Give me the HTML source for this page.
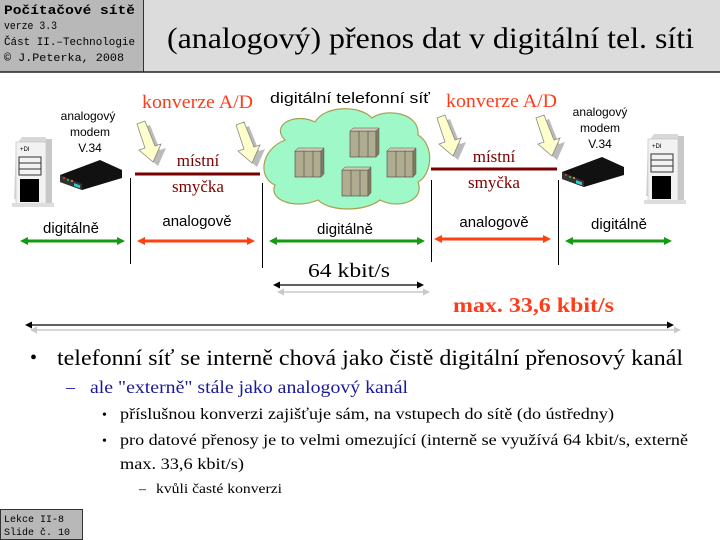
<!DOCTYPE html>
<html><head><meta charset="utf-8"><style>
html,body{margin:0;padding:0;background:#fff;}
svg{display:block;}
.s{font-family:"Liberation Sans",sans-serif;}
.r{font-family:"Liberation Serif",serif;}
.m{font-family:"Liberation Mono",monospace;}
</style></head><body>
<svg width="720" height="540" viewBox="0 0 720 540" xmlns="http://www.w3.org/2000/svg">
<defs>
<marker id="ag" markerWidth="8" markerHeight="8" refX="4" refY="4" orient="auto-start-reverse" markerUnits="userSpaceOnUse"><path d="M0,0 L8,4 L0,8 z" fill="#129a12"/></marker>
<marker id="ar" markerWidth="8" markerHeight="8" refX="4" refY="4" orient="auto-start-reverse" markerUnits="userSpaceOnUse"><path d="M0,0 L8,4 L0,8 z" fill="#ff4010"/></marker>
<marker id="ak" markerWidth="7" markerHeight="7" refX="4" refY="3.5" orient="auto-start-reverse" markerUnits="userSpaceOnUse"><path d="M0,0 L7,3.5 L0,7 z" fill="#000"/></marker>
<marker id="ay" markerWidth="7" markerHeight="7" refX="4" refY="3.5" orient="auto-start-reverse" markerUnits="userSpaceOnUse"><path d="M0,0 L7,3.5 L0,7 z" fill="#c8c8c8"/></marker>
<g id="comp">
<path d="M0,8 L6,0 L30,0 L30,62 L-2,62 z" fill="#d8d8d8"/>
<rect x="0" y="5" width="30" height="62" fill="#f2f2f2" stroke="#bbb" stroke-width="0.6"/>
<rect x="30" y="2" width="6" height="65" fill="#c8c8c8"/>
<rect x="3" y="20" width="22" height="18" fill="none" stroke="#333" stroke-width="1"/>
<line x1="3" y1="26" x2="25" y2="26" stroke="#333"/><line x1="3" y1="32" x2="25" y2="32" stroke="#333"/>
<rect x="4" y="42" width="19" height="23" fill="#000"/>
<text x="4" y="14" font-size="6" class="s">+DI</text>
<rect x="-4" y="66" width="42" height="4" fill="#ddd"/>
</g>
<g id="modem">
<path d="M0,15 L40,0 L62,10 L62,18 L22,30 L0,22 z" fill="#111"/>
<path d="M0,15 L22,24 L22,30 L0,22 z" fill="#333"/>
<rect x="14" y="23" width="6" height="3" fill="#3cc" transform="skewY(20) translate(0,-5)"/>
<circle cx="4" cy="18" r="1" fill="#f33"/><circle cx="8" cy="20" r="1" fill="#3c3"/><circle cx="12" cy="21" r="1" fill="#f93"/>
</g>
<g id="yarr">
<path d="M0,0 L8,-3 L18,22 L24,20 L16,38 L2,26 L8,24 z" fill="#bbb" transform="translate(5,4)"/>
<path d="M0,0 L8,-3 L18,22 L24,20 L16,38 L2,26 L8,24 z" fill="#ffffcc" stroke="#888" stroke-width="0.8"/>
</g>
<g id="box">
<rect x="0" y="3" width="26" height="26" fill="#b0ac90" stroke="#555" stroke-width="0.7"/>
<path d="M0,3 L3,0 L29,0 L26,3 z" fill="#d0ccb0" stroke="#555" stroke-width="0.5"/>
<path d="M26,3 L29,0 L29,26 L26,29 z" fill="#807c60" stroke="#555" stroke-width="0.5"/>
<line x1="9" y1="3" x2="9" y2="29" stroke="#555" stroke-width="0.7"/><line x1="18" y1="3" x2="18" y2="29" stroke="#555" stroke-width="0.7"/>
</g>
</defs>

<!-- header -->
<rect x="0" y="0" width="720" height="72" fill="#dcdcdc"/>
<rect x="0" y="0" width="143" height="72" fill="#b8b8b8"/>
<line x1="143.5" y1="0" x2="143.5" y2="72" stroke="#333"/>
<line x1="0" y1="72" x2="720" y2="72" stroke="#222" stroke-width="1.5"/>
<text x="4" y="14" font-size="12.5" font-weight="bold" class="m" textLength="131" lengthAdjust="spacingAndGlyphs">Počítačové sítě</text>
<text x="4" y="29" font-size="11" class="m" textLength="53" lengthAdjust="spacingAndGlyphs">verze 3.3</text>
<text x="4" y="45" font-size="11" class="m" textLength="131" lengthAdjust="spacingAndGlyphs">Část II.–Technologie</text>
<text x="4" y="61" font-size="11" class="m" textLength="120" lengthAdjust="spacingAndGlyphs">© J.Peterka,  2008</text>
<text x="167" y="48" font-size="30" class="r" textLength="527" lengthAdjust="spacingAndGlyphs">(analogový) přenos dat v digitální tel. síti</text>

<!-- computers and modems -->
<use href="#comp" x="16" y="137"/>
<use href="#comp" x="648" y="134"/>
<use href="#modem" x="60" y="160"/>
<use href="#modem" x="562" y="157"/>
<text class="s" font-size="12" text-anchor="middle" x="88" y="120">analogový</text>
<text class="s" font-size="12" text-anchor="middle" x="90" y="136">modem</text>
<text class="s" font-size="12" text-anchor="middle" x="90" y="152">V.34</text>
<text class="s" font-size="12" text-anchor="middle" x="600" y="116">analogový</text>
<text class="s" font-size="12" text-anchor="middle" x="600" y="132">modem</text>
<text class="s" font-size="12" text-anchor="middle" x="600" y="148">V.34</text>

<!-- yellow arrows -->
<use href="#yarr" x="137" y="124"/>
<use href="#yarr" x="236" y="125"/>
<use href="#yarr" x="437" y="118"/>
<use href="#yarr" x="536" y="118"/>
<text class="r" font-size="19" fill="#ff3c1a" x="142" y="108" textLength="111" lengthAdjust="spacingAndGlyphs">konverze A/D</text>
<text class="r" font-size="19" fill="#ff3c1a" x="446" y="107" textLength="111" lengthAdjust="spacingAndGlyphs">konverze A/D</text>

<!-- cloud -->
<path d="M285,140 C270,125 295,112 315,122 C325,105 360,105 372,118 C385,108 420,112 418,135 C435,145 432,175 418,182 C425,200 400,210 380,200 C365,212 330,212 318,200 C295,210 268,200 275,185 C258,178 260,150 285,140 z" fill="#9ff8c8" stroke="#a8a050" stroke-width="1.2"/>
<use href="#box" x="295" y="148"/>
<use href="#box" x="350" y="128"/>
<use href="#box" x="387" y="148"/>
<use href="#box" x="342" y="167"/>
<text class="s" font-size="15" x="270" y="103" textLength="160" lengthAdjust="spacingAndGlyphs">digitální telefonní síť</text>

<!-- local loops -->
<line x1="135" y1="174" x2="260" y2="174" stroke="#7a0000" stroke-width="3"/>
<line x1="431" y1="169" x2="557" y2="169" stroke="#7a0000" stroke-width="3"/>
<text class="r" font-size="17" fill="#800000" text-anchor="middle" x="198" y="166">místní</text>
<text class="r" font-size="17" fill="#800000" text-anchor="middle" x="198" y="192">smyčka</text>
<text class="r" font-size="17" fill="#800000" text-anchor="middle" x="494" y="162">místní</text>
<text class="r" font-size="17" fill="#800000" text-anchor="middle" x="494" y="188">smyčka</text>

<!-- separators -->
<g stroke="#000" stroke-width="1">
<line x1="130.5" y1="178" x2="130.5" y2="264"/>
<line x1="262.5" y1="183" x2="262.5" y2="268"/>
<line x1="431.5" y1="180" x2="431.5" y2="262"/>
<line x1="558.5" y1="180" x2="558.5" y2="265"/>
</g>

<!-- labels + arrows -->
<text class="s" font-size="15" text-anchor="middle" x="71" y="233">digitálně</text>
<text class="s" font-size="15" text-anchor="middle" x="197" y="226">analogově</text>
<text class="s" font-size="15" text-anchor="middle" x="345" y="234">digitálně</text>
<text class="s" font-size="15" text-anchor="middle" x="494" y="227">analogově</text>
<text class="s" font-size="15" text-anchor="middle" x="619" y="229">digitálně</text>
<line x1="24" y1="241" x2="121" y2="241" stroke="#129a12" stroke-width="3" marker-start="url(#ag)" marker-end="url(#ag)"/>
<line x1="141" y1="241" x2="251" y2="241" stroke="#ff4010" stroke-width="3" marker-start="url(#ar)" marker-end="url(#ar)"/>
<line x1="273" y1="241" x2="421" y2="241" stroke="#129a12" stroke-width="3" marker-start="url(#ag)" marker-end="url(#ag)"/>
<line x1="438" y1="239" x2="547" y2="239" stroke="#ff4010" stroke-width="3" marker-start="url(#ar)" marker-end="url(#ar)"/>
<line x1="569" y1="241" x2="668" y2="241" stroke="#129a12" stroke-width="3" marker-start="url(#ag)" marker-end="url(#ag)"/>

<!-- rates -->
<text class="r" font-size="20" x="308" y="277" textLength="82" lengthAdjust="spacingAndGlyphs">64 kbit/s</text>
<line x1="280" y1="292" x2="427" y2="292" stroke="#c8c8c8" stroke-width="1.5" marker-start="url(#ay)" marker-end="url(#ay)"/>
<line x1="276" y1="285" x2="421" y2="285" stroke="#000" stroke-width="1.2" marker-start="url(#ak)" marker-end="url(#ak)"/>
<text class="r" font-size="21" font-weight="bold" fill="#ff3c1a" x="453" y="312" textLength="161" lengthAdjust="spacingAndGlyphs">max. 33,6 kbit/s</text>
<line x1="33" y1="330" x2="678" y2="330" stroke="#c8c8c8" stroke-width="1.5" marker-start="url(#ay)" marker-end="url(#ay)"/>
<line x1="28" y1="325" x2="671" y2="325" stroke="#000" stroke-width="1.2" marker-start="url(#ak)" marker-end="url(#ak)"/>

<!-- bullets -->
<text class="r" font-size="20" x="30" y="364">•</text>
<text class="r" font-size="22" x="57" y="365" textLength="626" lengthAdjust="spacingAndGlyphs">telefonní síť se interně chová jako čistě digitální přenosový kanál</text>
<text class="r" font-size="18" fill="#1a1a99" x="66" y="393">–</text>
<text class="r" font-size="18" fill="#1a1a99" x="90" y="393" textLength="318" lengthAdjust="spacingAndGlyphs">ale "externě" stále jako analogový kanál</text>
<text class="r" font-size="14" x="102" y="419">•</text>
<text class="r" font-size="15.5" x="120" y="419" textLength="494" lengthAdjust="spacingAndGlyphs">příslušnou konverzi zajišťuje sám, na vstupech do sítě (do ústředny)</text>
<text class="r" font-size="14" x="102" y="445">•</text>
<text class="r" font-size="15.5" x="120" y="445" textLength="568" lengthAdjust="spacingAndGlyphs">pro datové přenosy je to velmi omezující (interně se využívá 64 kbit/s, externě</text>
<text class="r" font-size="15.5" x="120" y="469" textLength="124" lengthAdjust="spacingAndGlyphs">max. 33,6 kbit/s)</text>
<text class="r" font-size="14" x="139" y="493">–</text>
<text class="r" font-size="14" x="156" y="493" textLength="126" lengthAdjust="spacingAndGlyphs">kvůli časté konverzi</text>

<!-- footer -->
<rect x="0.5" y="509.5" width="82" height="30" fill="#b8b8b8" stroke="#333"/>
<text class="m" font-size="10" x="4" y="522">Lekce II-8</text>
<text class="m" font-size="10" x="4" y="535">Slide č. 10</text>
</svg>
</body></html>
